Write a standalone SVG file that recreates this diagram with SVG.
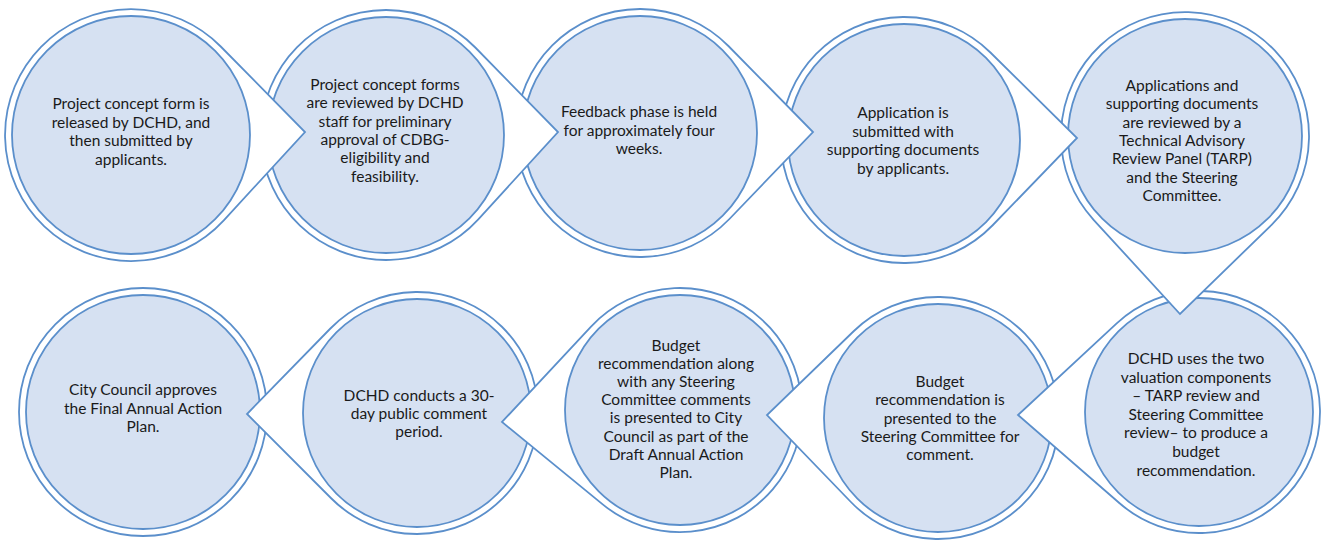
<svg xmlns="http://www.w3.org/2000/svg" width="1323" height="540" viewBox="0 0 1323 540">
<style>
.outer{fill:#ffffff;stroke:#5b8fcb;stroke-width:1.8;stroke-linejoin:miter}
.inner{fill:#d6e1f2;stroke:#5b8fcb;stroke-width:1.8}
.t{font-family:Lato,"Liberation Sans",sans-serif;font-size:15.5px;fill:#1a1a1a;text-anchor:middle}
</style>
<rect width="1323" height="540" fill="#ffffff"/>
<g id="connectors"></g>
<g id="n10">
<circle class="outer" cx="143" cy="412" r="124"/>
<circle class="inner" cx="143" cy="412" r="117"/>
<text class="t"><tspan x="143" y="395">City Council approves</tspan><tspan x="143" y="413.5">the Final Annual Action</tspan><tspan x="143" y="432">Plan.</tspan></text>
</g>
<g id="n9">
<path class="outer" d="M330.4,328.5 L247,414 L331.4,498.5 A121,121 0 1 0 330.4,328.5 Z"/>
<circle class="inner" cx="417" cy="413" r="114"/>
<text class="t"><tspan x="419" y="401">DCHD conducts a 30-</tspan><tspan x="419" y="419">day public comment</tspan><tspan x="419" y="437">period.</tspan></text>
</g>
<g id="n8">
<path class="outer" d="M590.8,326.8 L502,422 L602.7,504.4 A122,122 0 1 0 590.8,326.8 Z"/>
<circle class="inner" cx="680" cy="410" r="115"/>
<text class="t"><tspan x="676" y="351">Budget</tspan><tspan x="676" y="369.1">recommendation along</tspan><tspan x="676" y="387.2">with any Steering</tspan><tspan x="676" y="405.3">Committee comments</tspan><tspan x="676" y="423.4">is presented to City</tspan><tspan x="676" y="441.5">Council as part of the</tspan><tspan x="676" y="459.6">Draft Annual Action</tspan><tspan x="676" y="477.7">Plan.</tspan></text>
</g>
<g id="n7">
<path class="outer" d="M853.9,331 L767,415 L850.9,502 A121,121 0 1 0 853.9,331 Z"/>
<circle class="inner" cx="938" cy="418" r="114"/>
<text class="t"><tspan x="940" y="387">Budget</tspan><tspan x="940" y="405.3">recommendation is</tspan><tspan x="940" y="423.6">presented to the</tspan><tspan x="940" y="441.9">Steering Committee for</tspan><tspan x="940" y="460.2">comment.</tspan></text>
</g>
<g id="n6">
<path class="outer" d="M1116.7,323.3 L1018,415 L1119.6,503.3 A121,121 0 1 0 1116.7,323.3 Z"/>
<circle class="inner" cx="1199" cy="412" r="114"/>
<text class="t"><tspan x="1196" y="364">DCHD uses the two</tspan><tspan x="1196" y="382.6">valuation components</tspan><tspan x="1196" y="401.2">– TARP review and</tspan><tspan x="1196" y="419.8">Steering Committee</tspan><tspan x="1196" y="438.4">review– to produce a</tspan><tspan x="1196" y="457">budget</tspan><tspan x="1196" y="475.6">recommendation.</tspan></text>
</g>
<g id="n5">
<path class="outer" d="M1093.6,219.8 L1180,314 L1271.6,224.8 A124,124 0 1 0 1093.6,219.8 Z"/>
<circle class="inner" cx="1185" cy="136" r="117"/>
<text class="t"><tspan x="1182" y="91">Applications and</tspan><tspan x="1182" y="109.3">supporting documents</tspan><tspan x="1182" y="127.6">are reviewed by a</tspan><tspan x="1182" y="145.9">Technical Advisory</tspan><tspan x="1182" y="164.2">Review Panel (TARP)</tspan><tspan x="1182" y="182.5">and the Steering</tspan><tspan x="1182" y="200.8">Committee.</tspan></text>
</g>
<g id="n4">
<path class="outer" d="M990.4,52.5 L1077,138 L992.4,225.5 A123,123 0 1 1 990.4,52.5 Z"/>
<circle class="inner" cx="904" cy="140" r="116"/>
<text class="t"><tspan x="903" y="118">Application is</tspan><tspan x="903" y="136.5">submitted with</tspan><tspan x="903" y="155">supporting documents</tspan><tspan x="903" y="173.5">by applicants.</tspan></text>
</g>
<g id="n3">
<path class="outer" d="M728.4,46 L813,132 L729.4,219 A124,124 0 1 1 728.4,46 Z"/>
<circle class="inner" cx="640" cy="133" r="117"/>
<text class="t"><tspan x="639" y="117">Feedback phase is held</tspan><tspan x="639" y="135.5">for approximately four</tspan><tspan x="639" y="154">weeks.</tspan></text>
</g>
<g id="n2">
<path class="outer" d="M475.3,47.5 L558,132 L478.3,219.3 A125,125 0 1 1 475.3,47.5 Z"/>
<circle class="inner" cx="386" cy="135" r="118"/>
<text class="t"><tspan x="385" y="90">Project concept forms</tspan><tspan x="385" y="108.3">are reviewed by DCHD</tspan><tspan x="385" y="126.6">staff for preliminary</tspan><tspan x="385" y="144.9">approval of CDBG-</tspan><tspan x="385" y="163.2">eligibility and</tspan><tspan x="385" y="181.5">feasibility.</tspan></text>
</g>
<g id="n1">
<path class="outer" d="M220.7,46.5 L305,132 L223.8,220.3 A126,126 0 1 1 220.7,46.5 Z"/>
<circle class="inner" cx="131" cy="135" r="119"/>
<text class="t"><tspan x="131" y="109">Project concept form is</tspan><tspan x="131" y="127.5">released by DCHD, and</tspan><tspan x="131" y="146">then submitted by</tspan><tspan x="131" y="164.5">applicants.</tspan></text>
</g>
</svg>
